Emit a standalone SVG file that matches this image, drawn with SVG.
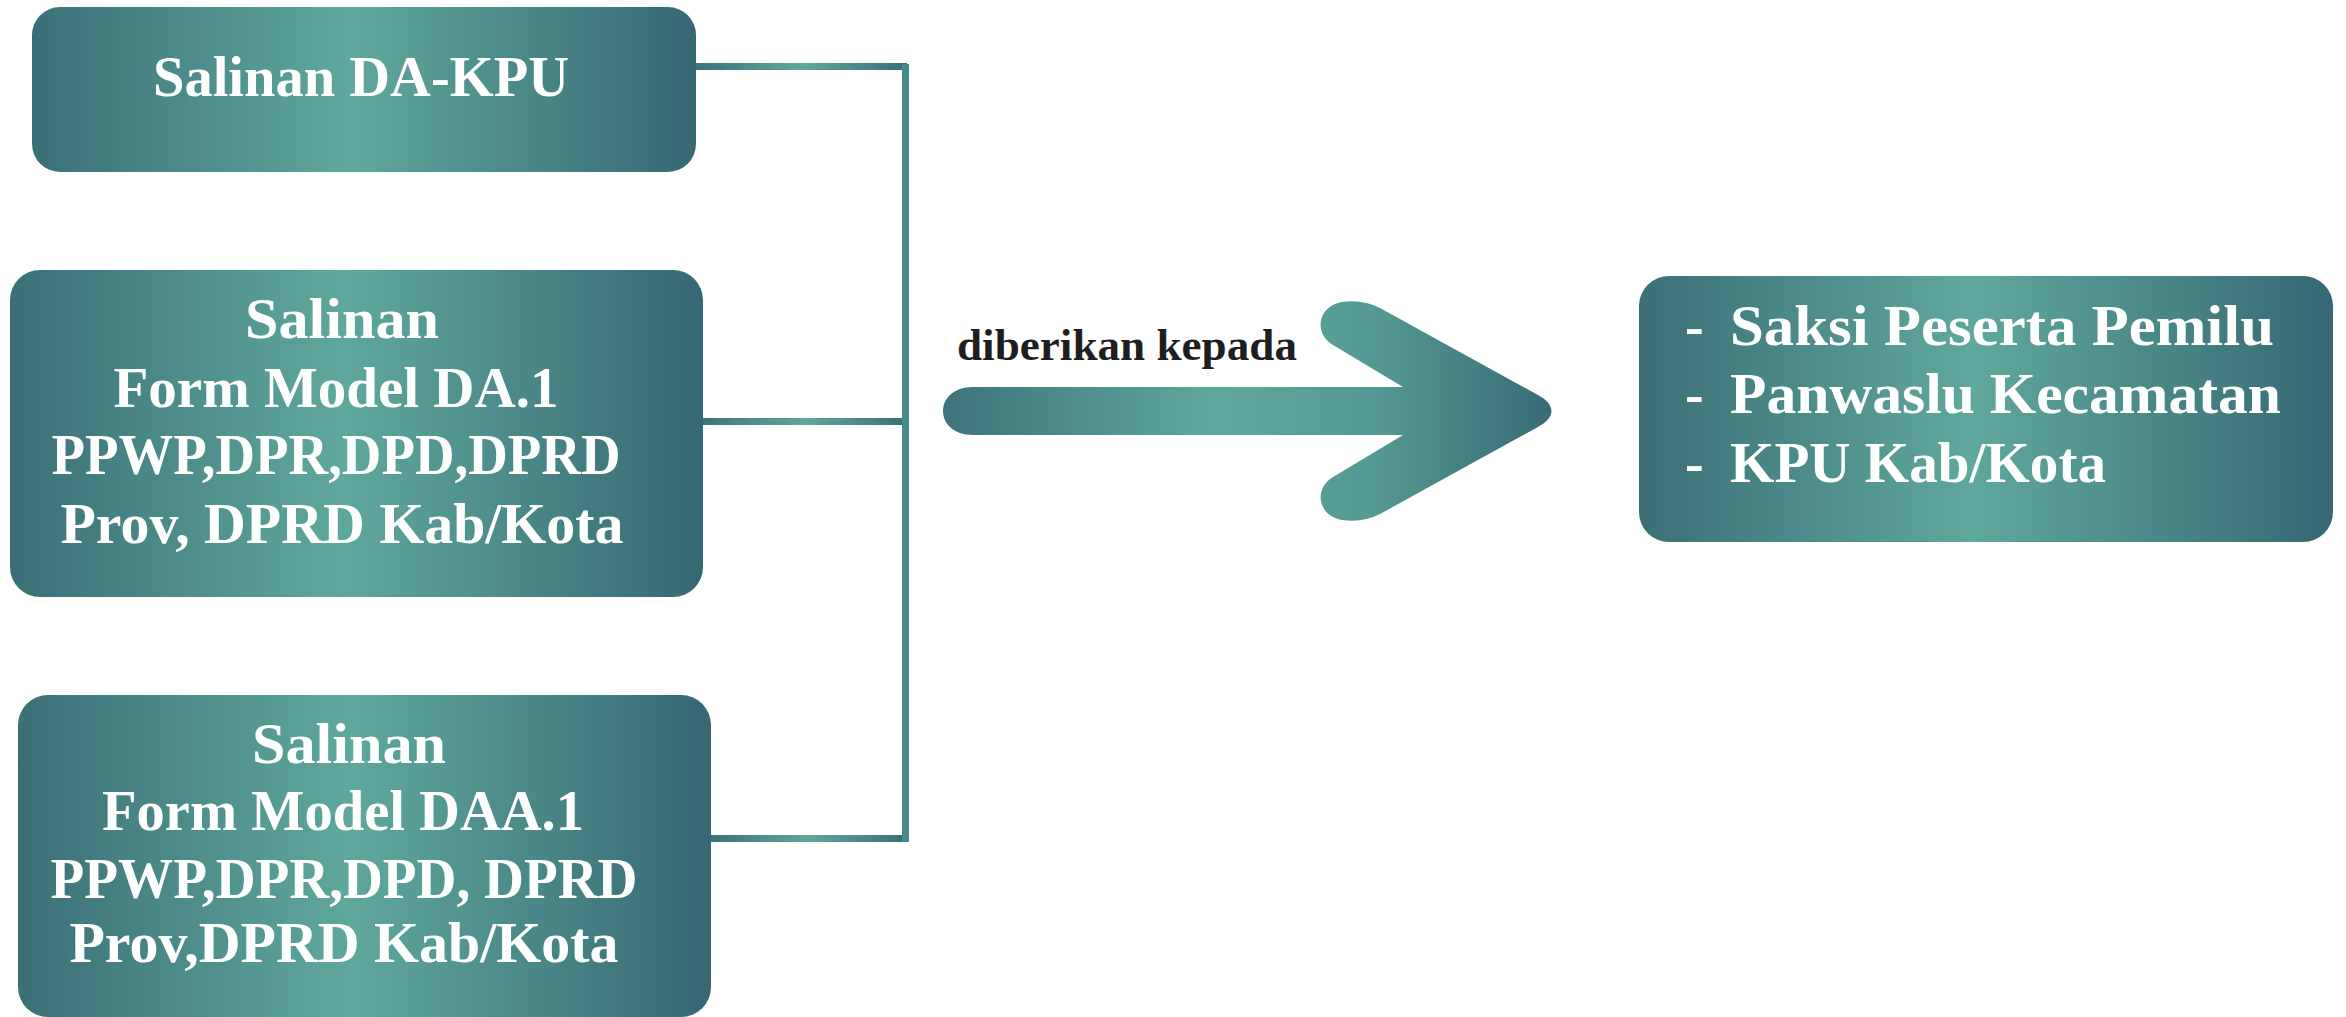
<svg xmlns="http://www.w3.org/2000/svg" width="2346" height="1017" viewBox="0 0 2346 1017">
  <defs>
    <linearGradient id="boxGrad" x1="0" y1="0" x2="1" y2="0">
      <stop offset="0" stop-color="#3b6f77"/>
      <stop offset="0.48" stop-color="#5fa89d"/>
      <stop offset="1" stop-color="#366873"/>
    </linearGradient>
    <linearGradient id="arrowGrad" gradientUnits="userSpaceOnUse" x1="933" y1="0" x2="1556" y2="0">
      <stop offset="0" stop-color="#3c7279"/>
      <stop offset="0.45" stop-color="#5fa89d"/>
      <stop offset="0.7" stop-color="#559a94"/>
      <stop offset="1" stop-color="#376a74"/>
    </linearGradient>
    <linearGradient id="lineGrad" x1="0" y1="0" x2="1" y2="0">
      <stop offset="0" stop-color="#3d7479"/>
      <stop offset="0.5" stop-color="#5fa89d"/>
      <stop offset="1" stop-color="#3a6e77"/>
    </linearGradient>
    <style>
      .box { fill: url(#boxGrad); }
      .lbl { font-family: "Liberation Serif", "Times New Roman", serif; font-weight: bold; font-size: 56px; fill: #ffffff; text-anchor: middle; }
      .lst { font-family: "Liberation Serif", "Times New Roman", serif; font-weight: bold; font-size: 56px; fill: #ffffff; }
      .cap { font-family: "Liberation Serif", "Times New Roman", serif; font-weight: bold; font-size: 45px; fill: #1e1e1e; }
      .hline { fill: url(#lineGrad); }
      .vline { fill: #468a8b; }
    </style>
  </defs>
  <rect width="2346" height="1017" fill="#ffffff"/>

  <g id="connectors">
    <rect class="hline" x="696" y="63" width="211" height="7"/>
    <rect class="hline" x="703" y="418" width="204" height="7"/>
    <rect class="hline" x="711" y="835" width="196" height="7"/>
    <rect class="vline" x="902" y="64" width="7" height="778"/>
  </g>

  <g id="node-da-kpu">
    <rect class="box" x="32" y="7" width="664" height="165" rx="28" ry="28"/>
    <text class="lbl" x="361" y="96" textLength="416" lengthAdjust="spacingAndGlyphs">Salinan DA-KPU</text>
  </g>

  <g id="node-da1">
    <rect class="box" x="10" y="270" width="693" height="327" rx="30" ry="30"/>
    <text class="lbl" x="342" y="338" textLength="194" lengthAdjust="spacingAndGlyphs">Salinan</text>
    <text class="lbl" x="336" y="407" textLength="445" lengthAdjust="spacingAndGlyphs">Form Model DA.1</text>
    <text class="lbl" x="336" y="474" textLength="569" lengthAdjust="spacingAndGlyphs">PPWP,DPR,DPD,DPRD</text>
    <text class="lbl" x="342" y="543" textLength="563" lengthAdjust="spacingAndGlyphs">Prov, DPRD Kab/Kota</text>
  </g>

  <g id="node-daa1">
    <rect class="box" x="18" y="695" width="693" height="322" rx="30" ry="30"/>
    <text class="lbl" x="349" y="763" textLength="194" lengthAdjust="spacingAndGlyphs">Salinan</text>
    <text class="lbl" x="343" y="830" textLength="482" lengthAdjust="spacingAndGlyphs">Form Model DAA.1</text>
    <text class="lbl" x="344" y="898" textLength="587" lengthAdjust="spacingAndGlyphs">PPWP,DPR,DPD, DPRD</text>
    <text class="lbl" x="344" y="962" textLength="549" lengthAdjust="spacingAndGlyphs">Prov,DPRD Kab/Kota</text>
  </g>

  <g id="arrow">
    <path fill="url(#arrowGrad)" d="M 973,387 L 1403,387 L 1333,345 C 1313,333 1318,306 1342,302 C 1356,300 1368,302 1380,308 L 1538,395 C 1556,405 1556,417 1538,427 L 1380,514 C 1368,520 1356,522 1342,520 C 1318,516 1313,489 1333,477 L 1403,435 L 973,435 C 933,435 933,387 973,387 Z"/>
    <text class="cap" x="957" y="360" textLength="340" lengthAdjust="spacingAndGlyphs">diberikan kepada</text>
  </g>

  <g id="node-recipients">
    <rect class="box" x="1639" y="276" width="694" height="266" rx="30" ry="30"/>
    <text class="lst" y="345"><tspan x="1685">-</tspan><tspan x="1730" textLength="544" lengthAdjust="spacingAndGlyphs">Saksi Peserta Pemilu</tspan></text>
    <text class="lst" y="413"><tspan x="1685">-</tspan><tspan x="1730" textLength="551" lengthAdjust="spacingAndGlyphs">Panwaslu Kecamatan</tspan></text>
    <text class="lst" y="482"><tspan x="1685">-</tspan><tspan x="1730" textLength="376" lengthAdjust="spacingAndGlyphs">KPU Kab/Kota</tspan></text>
  </g>
</svg>
